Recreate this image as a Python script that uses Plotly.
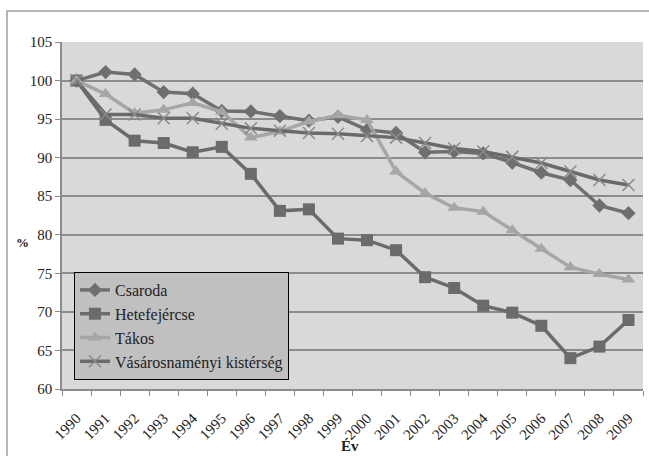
import plotly.graph_objects as go

years = [str(y) for y in range(1990, 2010)]

csaroda = [100, 101.1, 100.8, 98.5, 98.3, 96.05, 96.0, 95.4, 94.8, 95.3,
           93.6, 93.2, 90.7, 90.8, 90.55, 89.35, 88.05, 87.1, 83.8, 82.8]
hetefejercse = [100, 94.9, 92.2, 91.9, 90.7, 91.4, 87.9, 83.1, 83.3, 79.5,
                79.3, 78.0, 74.5, 73.1, 70.8, 69.9, 68.2, 64.0, 65.5, 68.95]
takos = [100, 98.25, 95.75, 96.2, 97.1, 95.96, 92.6, 93.4, 94.7, 95.5,
         94.9, 88.2, 85.4, 83.5, 83.0, 80.6, 78.2, 75.8, 74.9, 74.2]
vasarosnameny = [100, 95.6, 95.6, 95.1, 95.1, 94.4, 93.8, 93.5, 93.2, 93.1,
                 92.8, 92.6, 91.9, 91.2, 90.8, 90.1, 89.3, 88.2, 87.1, 86.45]

series_names = ["Csaroda", "Hetefejércse", "Tákos", "Vásárosnaményi kistérség"]
y_ticks = [60, 65, 70, 75, 80, 85, 90, 95, 100, 105]

FONT = "Liberation Serif, Times New Roman, serif"

fig = go.Figure()
specs = [
    (series_names[0], csaroda, "#6f6f6f", dict(symbol="diamond", size=11, color="#6f6f6f")),
    (series_names[1], hetefejercse, "#6b6b6b", dict(symbol="square", size=12, color="#6b6b6b")),
    (series_names[2], takos, "#a6a6a6", dict(symbol="triangle-up", size=12, color="#a6a6a6")),
    (series_names[3], vasarosnameny, "#6a6a6a",
     dict(symbol="x-thin", size=12, color="#8a8a8a", line=dict(color="#8a8a8a", width=1.5))),
]
for i, (name, vals, col, mk) in enumerate(specs):
    fig.add_trace(go.Scatter(
        x=years, y=vals, name=name, mode="lines+markers",
        line=dict(color=col, width=3.5), marker=mk,
        legendgroup=f"g{i}",
    ))

fig.update_layout(
    width=649, height=456,
    margin=dict(l=62, r=6, t=42, b=67),
    paper_bgcolor="white",
    plot_bgcolor="#d9d9d9",
    font=dict(family=FONT, size=15, color="#222222"),
    showlegend=True,
    legend=dict(
        x=(74 - 62) / 581, y=(389 - 272) / 347, xanchor="left", yanchor="top",
        bgcolor="#c0c0c0", bordercolor="black", borderwidth=1,
        font=dict(family=FONT, size=16, color="#222222"),
        tracegroupgap=0, itemwidth=30,
    ),
    xaxis=dict(
        type="category", tickson="boundaries", ticks="outside", ticklen=5,
        tickcolor="#8c8c8c", tickangle=-45, showgrid=False,
        showline=True, linecolor="#8c8c8c", linewidth=1.5,
        tickfont=dict(family=FONT, size=15), ticklabelstandoff=13,
        range=[-0.5, 19.5], automargin=False,
    ),
    yaxis=dict(
        range=[60, 105], tickvals=y_ticks, ticks="outside", ticklen=5,
        tickcolor="#8c8c8c", showgrid=True, gridcolor="#8c8c8c", gridwidth=1.5,
        showline=True, linecolor="#8c8c8c", linewidth=1.5,
        tickfont=dict(family=FONT, size=15), zeroline=False, automargin=False,
    ),
    annotations=[
        dict(
            text="<b>%</b>", xref="paper", yref="paper",
            x=(14 - 62) / 581, y=(389 - 243) / 347, showarrow=False,
            font=dict(family=FONT, size=13, color="#222222"),
        ),
        dict(
            text="<b>Év</b>", xref="paper", yref="paper",
            x=(350 - 62) / 581, y=(389 - 446) / 347, showarrow=False,
            xanchor="center", yanchor="middle",
            font=dict(family=FONT, size=15, color="#222222"),
        ),
    ],
    shapes=[dict(
        type="rect", xref="paper", yref="paper",
        x0=(7 - 62) / 581, x1=(655 - 62) / 581,
        y0=(389 - 470) / 347, y1=(389 - 11) / 347,
        line=dict(color="#a0a0a0", width=1.5), layer="below",
    )],
)

fig.write_html(
    "out.html",
    config={"displayModeBar": False},
    post_script="document.body.style.margin='0';document.body.style.overflow='hidden';",
)
